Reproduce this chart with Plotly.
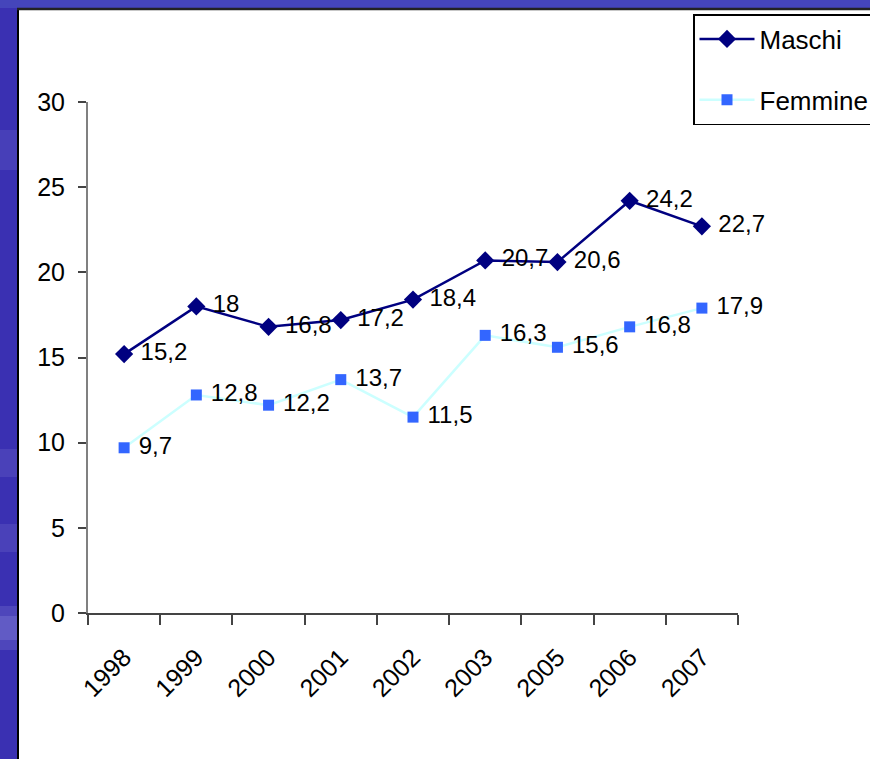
import plotly.graph_objects as go

years = ["1998", "1999", "2000", "2001", "2002", "2003", "2005", "2006", "2007"]
maschi = [15.2, 18, 16.8, 17.2, 18.4, 20.7, 20.6, 24.2, 22.7]
femmine = [9.7, 12.8, 12.2, 13.7, 11.5, 16.3, 15.6, 16.8, 17.9]
y_ticks = [0, 5, 10, 15, 20, 25, 30]

FONT = "Liberation Sans, Arial, sans-serif"

def fmt(v):
    return " " + ("%g" % v).replace(".", ",")

W, H = 870, 759
L, R, T, B = 88, 738, 102, 613
pw, ph = R - L, B - T

def px(x):
    return (x - L) / pw

def py(y):
    return (B - y) / ph

fig = go.Figure()
fig.add_trace(go.Scatter(
    x=years, y=maschi, name="Maschi", mode="lines+markers+text",
    legendgroup="m",
    line=dict(color="#000080", width=2.5),
    marker=dict(symbol="diamond", size=14, color="#000080"),
    text=[fmt(v) for v in maschi], textposition="middle right",
    textfont=dict(family=FONT, size=24, color="black"),
    cliponaxis=False,
))
fig.add_trace(go.Scatter(
    x=years, y=femmine, name="Femmine", mode="lines+markers+text",
    legendgroup="f",
    line=dict(color="#ccffff", width=2.5),
    marker=dict(symbol="square", size=11, color="#3366ff"),
    text=[fmt(v) for v in femmine], textposition="middle right",
    textfont=dict(family=FONT, size=24, color="black"),
    cliponaxis=False,
))

shapes = [
    dict(type="rect", xref="paper", yref="paper", x0=px(0), x1=px(17), y0=py(H), y1=py(0),
         fillcolor="#3a30b2", line=dict(width=0), layer="below"),
    dict(type="rect", xref="paper", yref="paper", x0=px(0), x1=px(W), y0=py(8), y1=py(0),
         fillcolor="#4545bb", line=dict(width=0), layer="below"),
]
for c, hw, a in [(628, 22, 0.18), (628, 12, 0.22), (538, 14, 0.15), (463, 14, 0.15), (150, 20, 0.12)]:
    shapes.append(dict(type="rect", xref="paper", yref="paper", x0=px(0), x1=px(17),
                       y0=py(c + hw), y1=py(c - hw),
                       fillcolor="rgba(170,170,230,%g)" % a, line=dict(width=0), layer="below"))
shapes += [
    dict(type="line", xref="paper", yref="paper", x0=px(18), x1=px(18), y0=py(H), y1=py(8),
         line=dict(color="black", width=2)),
    dict(type="line", xref="paper", yref="paper", x0=px(17), x1=px(W), y0=py(9), y1=py(9),
         line=dict(color="#222222", width=2.5)),
]

fig.update_layout(
    width=W, height=H,
    margin=dict(l=L, r=W - R, t=T, b=H - B, autoexpand=False),
    paper_bgcolor="white", plot_bgcolor="white",
    font=dict(family=FONT, size=25, color="black"),
    showlegend=True,
    legend=dict(
        x=px(693), y=py(14), xanchor="left", yanchor="top",
        bordercolor="black", borderwidth=1.5, bgcolor="white",
        font=dict(family=FONT, size=26, color="black"),
        itemwidth=55, traceorder="grouped", tracegroupgap=24,
    ),
    shapes=shapes,
    xaxis=dict(
        type="category", tickangle=-45, tickson="boundaries",
        ticks="outside", ticklen=10, tickcolor="#444", tickwidth=1.5,
        showline=True, linecolor="#444", linewidth=1.5,
        showgrid=False, zeroline=False,
        tickfont=dict(family=FONT, size=25),
        ticklabelstandoff=18,
        range=[-0.5, len(years) - 0.5],
    ),
    yaxis=dict(
        range=[0, 30], tickvals=y_ticks,
        ticks="outside", ticklen=8, tickcolor="#444", tickwidth=1.5,
        showline=True, linecolor="#808080", linewidth=2,
        showgrid=False, zeroline=False,
        tickfont=dict(family=FONT, size=25),
        ticklabelstandoff=8,
    ),
)

fig.write_html("out.html", config={"displayModeBar": False},
               post_script="document.body.style.margin='0';")
